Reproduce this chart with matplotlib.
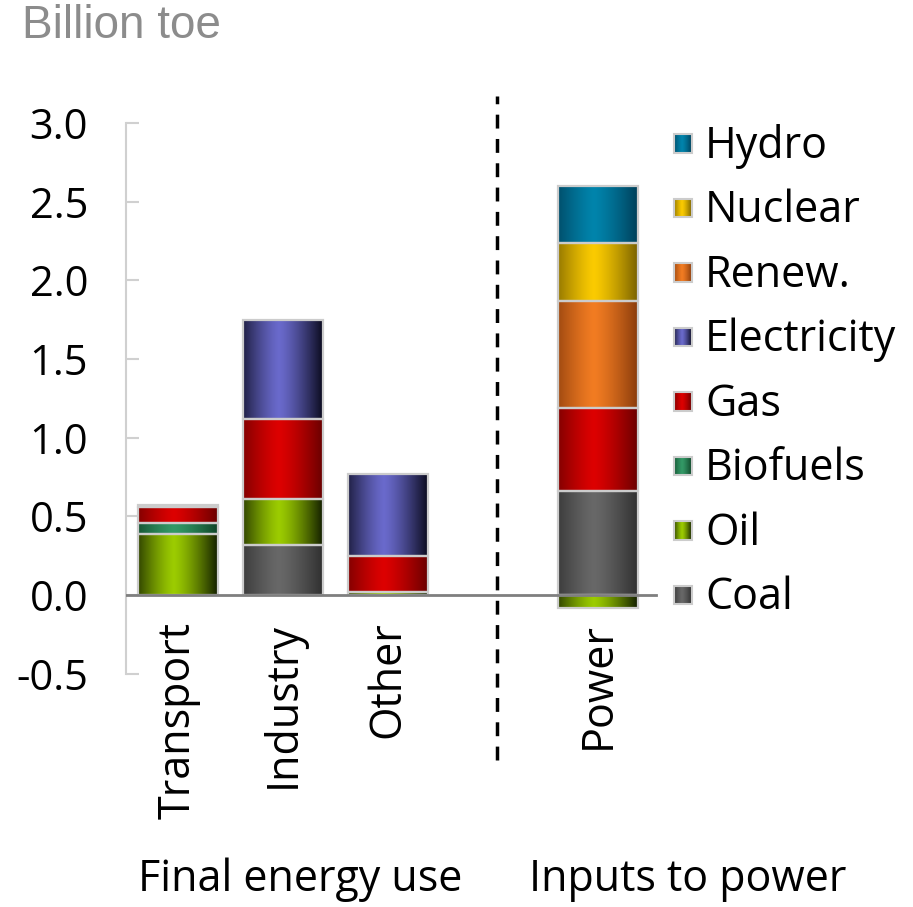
import numpy as np
import matplotlib
matplotlib.use("Agg")
import matplotlib.pyplot as plt
from matplotlib.colors import to_rgb

plt.rcParams['font.family'] = ['Open Sans', 'DejaVu Sans']

# data (billion toe)
categories = ['Transport', 'Industry', 'Other', 'Power']
xpos = [0, 1, 2, 4]
series = ['Coal', 'Oil', 'Biofuels', 'Gas', 'Electricity', 'Renew.', 'Nuclear', 'Hydro']
coal = [0.0, 0.32, 0.0, 0.66]
oil = [0.39, 0.29, 0.02, -0.08]
biofuels = [0.07, 0.0, 0.0, 0.0]
gas = [0.10, 0.51, 0.23, 0.53]
electricity = [0.01, 0.63, 0.52, 0.0]
renew = [0.0, 0.0, 0.0, 0.68]
nuclear = [0.0, 0.0, 0.0, 0.37]
hydro = [0.0, 0.0, 0.0, 0.36]
values = [coal, oil, biofuels, gas, electricity, renew, nuclear, hydro]

# (bright centre, dark edge)
colors = [('#686868', '#303030'),
          ('#9ccc00', '#142000'),
          ('#339966', '#0f4428'),
          ('#dd0000', '#6a0000'),
          ('#6a6acc', '#0c0c20'),
          ('#f27c22', '#8a3c0c'),
          ('#fbcb00', '#7a6200'),
          ('#0084ac', '#00405a')]


def gradient(c_hi, c_lo, n=100):
    t = np.linspace(0, 1, n)
    w = np.clip(np.abs(t - 0.45) / 0.55, 0, 1) ** 1.3
    hi = np.array(to_rgb(c_hi))
    lo = np.array(to_rgb(c_lo))
    img = hi[None, :] * (1 - w[:, None]) + lo[None, :] * w[:, None]
    return img[None, :, :]


fig = plt.figure(figsize=(9.13, 9.07), dpi=100)
W, H = 913, 907
x_left, x_right = 125.5, 913
y_top, y_bot = 91.6, 768
ax = fig.add_axes([x_left / W, 1 - y_bot / H, (x_right - x_left) / W, (y_bot - y_top) / H])

width = 0.76
pos_bottom = np.zeros(len(categories))
for vals, (c_hi, c_lo) in zip(values, colors):
    vals = np.array(vals)
    bottoms = np.where(vals >= 0, pos_bottom, 0)
    bars = ax.bar(xpos, vals, width, bottom=bottoms, facecolor='none',
                  edgecolor='#cccccc', linewidth=1.6, zorder=3)
    for p, v in zip(bars.patches, vals):
        if v == 0:
            p.set_visible(False)
            continue
        x0, y0 = p.get_x(), p.get_y()
        y1 = y0 + p.get_height()
        im = ax.imshow(gradient(c_hi, c_lo), extent=[x0, x0 + p.get_width(), min(y0, y1), max(y0, y1)],
                       aspect='auto', zorder=2, interpolation='bilinear')
        im.set_clip_path(p)
    pos_bottom = pos_bottom + np.where(vals >= 0, vals, 0)

# zero line
ax.plot([-0.5, 4.55], [0, 0], color='#7f7f7f', lw=2, zorder=4)

# separator
ax.plot([3.04, 3.04], [-1.05, 3.17], color='black', lw=2.5, linestyle=(0, (4, 3)), zorder=4)

# category labels
for x, lab in zip(xpos, categories):
    ax.text(x, -0.17, lab, rotation=90, ha='center', va='top', fontsize=31)

# legend (top to bottom: Hydro ... Coal)
leg_y0 = 0.0
leg_dy = 0.41
sq_w, sq_h = 0.17, 0.115
for i, (name, (c_hi, c_lo)) in enumerate(zip(series, colors)):
    yc = leg_y0 + i * leg_dy
    xs = 4.81 - sq_w / 2
    ax.imshow(gradient(c_hi, c_lo), extent=[xs, xs + sq_w, yc - sq_h / 2, yc + sq_h / 2],
              aspect='auto', zorder=2, interpolation='bilinear')
    ax.add_patch(plt.Rectangle((xs, yc - sq_h / 2), sq_w, sq_h, fill=False,
                               edgecolor='#cccccc', lw=1.5, zorder=3))
    ax.text(5.02, yc - 0.02, name, ha='left', va='center', fontsize=31)

ax.set_xlim(-0.5, 7.0)
ax.set_ylim(-1.1, 3.2)
ax.set_yticks([-0.5, 0, 0.5, 1.0, 1.5, 2.0, 2.5, 3.0])
ax.set_yticklabels(['-0.5', '0.0', '0.5', '1.0', '1.5', '2.0', '2.5', '3.0'])
ax.set_xticks([])
for s in ['top', 'right', 'bottom']:
    ax.spines[s].set_visible(False)
ax.spines['left'].set_bounds(-0.5, 3.0)
ax.spines['left'].set_color('#d0d0d0')
ax.spines['left'].set_linewidth(1.5)
ax.tick_params(axis='y', direction='in', length=9, width=1.5, color='#d0d0d0',
               pad=27, labelsize=30)

fig.text(22 / W, 1 - 26 / H, 'Billion toe', color='#8c8c8c', fontsize=33,
         ha='left', va='center', family=['Liberation Sans', 'DejaVu Sans'])
fig.text(300 / W, 1 - 880 / H, 'Final energy use', fontsize=31, ha='center', va='center')
fig.text(688 / W, 1 - 880 / H, 'Inputs to power', fontsize=31, ha='center', va='center')

fig.savefig('out.png', dpi=100)
